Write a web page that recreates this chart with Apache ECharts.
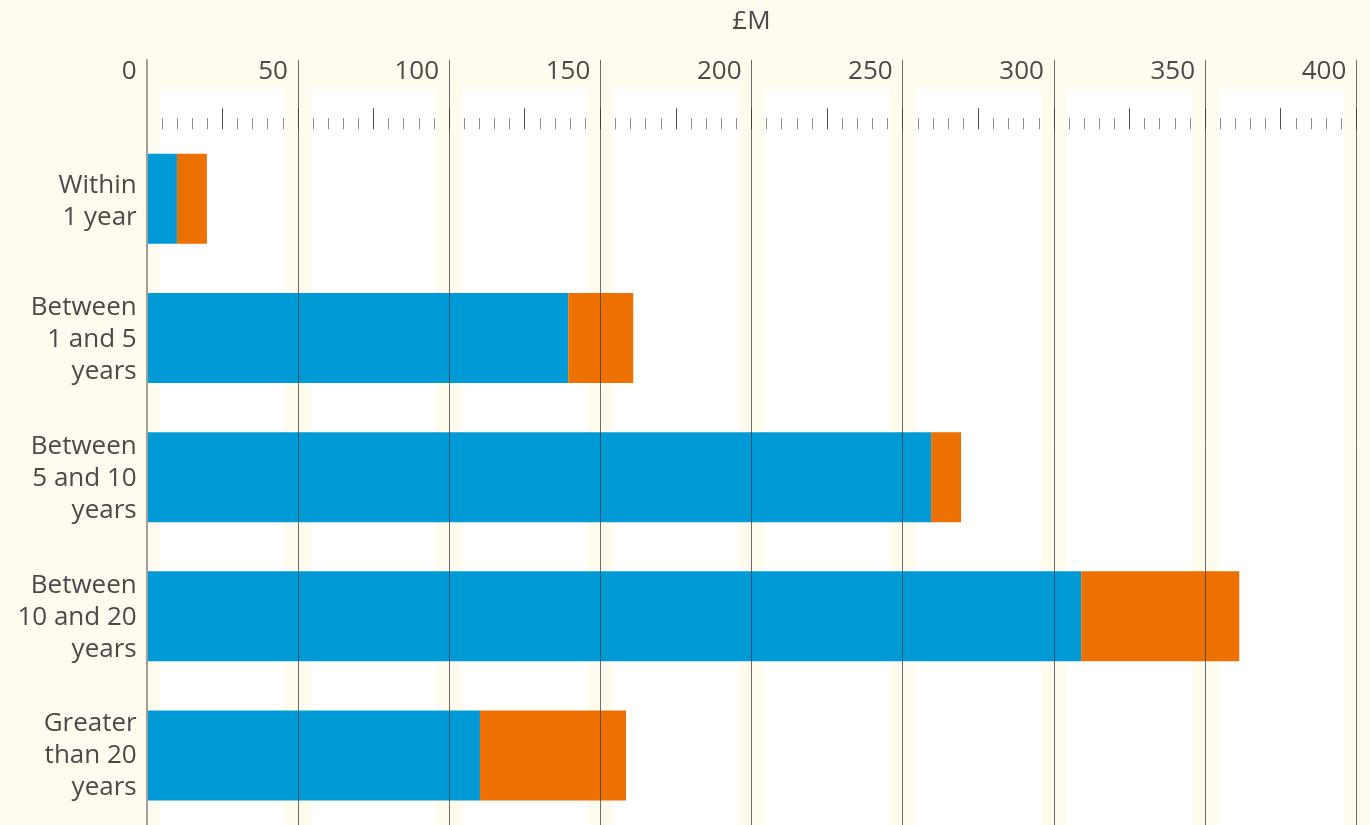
<!DOCTYPE html>
<html>
<head>
<meta charset="utf-8">
<script src="https://cdn.jsdelivr.net/npm/echarts@6/dist/echarts.min.js"></script>
<style>
html,body{margin:0;padding:0;background:#FFFCEF;}
#chart{width:1370px;height:825px;}
</style>
</head>
<body>
<div id="chart"></div>
<script>
// ---- data ----
const categories = ["Within\n1 year", "Between\n1 and 5\nyears", "Between\n5 and 10\nyears", "Between\n10 and 20\nyears", "Greater\nthan 20\nyears"];
const blueValues = [10.0, 139.4, 259.4, 309.0, 110.2];
const orangeValues = [9.9, 21.5, 9.9, 52.3, 48.3];
const axisMin = 0;
const axisMax = 400;
const axisStep = 50;
const axisUnit = "£M";

// ---- style ----
const FONT = "'Open Sans', sans-serif";
const TEXT = '#4a4a4a';
const BLUE = '#009AD7';
const ORANGE = '#EC7100';
const BG = '#FFFCEF';
const LEFT = 146.7, RIGHT = 13.7;
const PANEL_INSET = 4.35;

const panelData = [];
for (let v = axisMin; v < axisMax; v += axisStep) {
  panelData.push([{ xAxis: v + PANEL_INSET }, { xAxis: v + axisStep - PANEL_INSET }]);
}

const chart = echarts.init(document.getElementById('chart'), null, { renderer: 'canvas' });
chart.setOption({
  backgroundColor: BG,
  animation: false,
  textStyle: { fontFamily: FONT },
  grid: [
    { left: LEFT, right: RIGHT, top: 60, bottom: 0 },          // gridlines + labels
    { left: LEFT, right: RIGHT, top: 89, bottom: 0 },          // white panels
    { left: LEFT, right: RIGHT, top: 129.25, height: 697.5 },  // bars + ticks
    { left: LEFT, right: RIGHT, top: 132.25, height: 697.5 }   // category labels
  ],
  xAxis: [
    {
      gridIndex: 0, type: 'value', min: axisMin, max: axisMax, interval: axisStep,
      position: 'top', z: 10,
      name: axisUnit, nameLocation: 'middle', nameGap: 38,
      nameTextStyle: { fontFamily: FONT, fontSize: 26, color: TEXT, verticalAlign: 'middle' },
      axisLine: { show: false }, axisTick: { show: false },
      axisLabel: {
        inside: true, margin: 12, fontFamily: FONT, fontSize: 26, color: TEXT,
        align: 'right', verticalAlign: 'middle', padding: [0, 10, 0, 0]
      },
      splitLine: { show: true, showMinLine: false, lineStyle: { color: 'rgba(60,60,60,0.75)', width: 1 } }
    },
    {
      gridIndex: 1, type: 'value', min: axisMin, max: axisMax, show: false
    },
    {
      gridIndex: 2, type: 'value', min: axisMin, max: axisMax, interval: 25,
      position: 'top', z: 5,
      axisLine: { show: false },
      axisLabel: { show: false },
      axisTick: { show: true, length: 21, lineStyle: { color: '#4a4a4a', width: 1 } },
      minorTick: { show: true, splitNumber: 5, length: 11, lineStyle: { color: '#8c8c8c', width: 1 } },
      splitLine: { show: false }, minorSplitLine: { show: false }
    },
    {
      gridIndex: 3, type: 'value', min: axisMin, max: axisMax, show: false
    }
  ],
  yAxis: [
    {
      gridIndex: 0, type: 'value', min: 0, max: 1, z: 10,
      axisLine: { show: true, lineStyle: { color: '#a09f98', width: 2 } },
      axisTick: { show: false }, axisLabel: { show: false }, splitLine: { show: false }
    },
    {
      gridIndex: 1, type: 'value', min: 0, max: 1, show: false
    },
    {
      gridIndex: 2, type: 'category', inverse: true, data: categories,
      axisLine: { show: false }, axisTick: { show: false }, splitLine: { show: false },
      axisLabel: { show: false }
    },
    {
      gridIndex: 3, type: 'category', inverse: true, data: categories,
      axisLine: { show: false }, axisTick: { show: false }, splitLine: { show: false },
      axisLabel: {
        fontFamily: FONT, fontSize: 26, lineHeight: 32, color: TEXT, align: 'right', margin: 10
      }
    }
  ],
  series: [
    {
      type: 'line', xAxisIndex: 1, yAxisIndex: 1, data: [], z: 1, silent: true,
      markArea: { silent: true, itemStyle: { color: '#ffffff' }, data: panelData }
    },
    {
      name: 'blue', type: 'bar', stack: 'total', xAxisIndex: 2, yAxisIndex: 2,
      data: blueValues, barWidth: 90, itemStyle: { color: BLUE }, z: 2
    },
    {
      name: 'orange', type: 'bar', stack: 'total', xAxisIndex: 2, yAxisIndex: 2,
      data: orangeValues, barWidth: 90, itemStyle: { color: ORANGE }, z: 2
    }
  ]
});
</script>
</body>
</html>
